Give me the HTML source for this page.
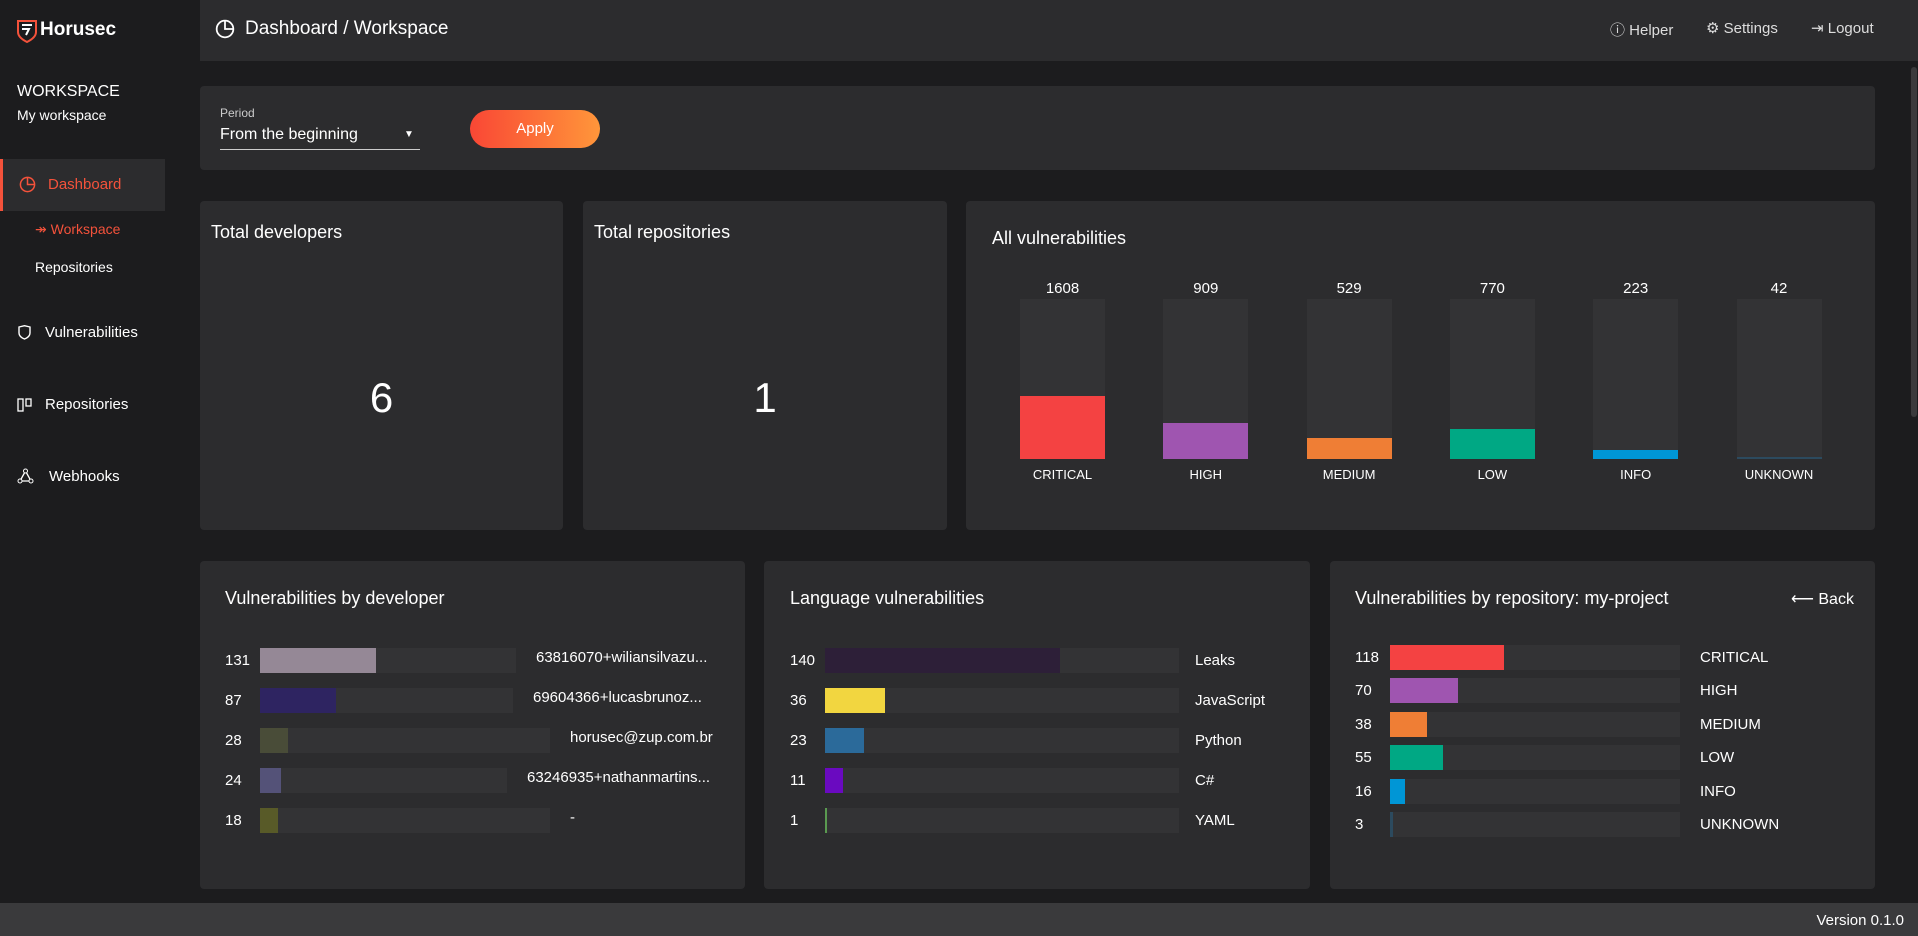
<!DOCTYPE html>
<html><head><meta charset="utf-8"><style>
*{box-sizing:border-box;margin:0;padding:0}
body{width:1918px;height:936px;background:#1c1c1e;font-family:"Liberation Sans",sans-serif;color:#fff;position:relative;overflow:hidden}
.abs{position:absolute}
.card{position:absolute;background:#2c2c2e;border-radius:4px}
.t{position:absolute;white-space:nowrap}
.track{position:absolute;background:#333335}
.fill{position:absolute;left:0;top:0;height:100%}
</style></head><body>
<div class="abs" style="left:0;top:0;width:200px;height:904px;background:#1c1c1e">
  <svg class="abs" style="left:16px;top:19px" width="22" height="24" viewBox="0 0 22 24"><path d="M2 2h18v11c0 5-5 8-9 10C7 21 2 18 2 13z" fill="none" stroke="#f4523b" stroke-width="2"/><path d="M6 6h10M6 10h7l-3 6" stroke="#fff" stroke-width="2" fill="none"/></svg>
  <div class="t" style="left:40px;top:19px;font-size:19px;font-weight:bold">Horusec</div>
  <div class="t" style="left:17px;top:83px;font-size:16px">WORKSPACE</div>
  <div class="t" style="left:17px;top:107px;font-size:14px">My workspace</div>
  <div class="abs" style="left:0;top:159px;width:165px;height:52px;background:#2c2c2e;border-left:3px solid #f4523b">
    <svg class="abs" style="left:16px;top:17px" width="17" height="17" viewBox="0 0 18 18"><circle cx="9" cy="9" r="7.5" fill="none" stroke="#f4523b" stroke-width="1.6"/><path d="M9 1.5V9h7.5" fill="none" stroke="#f4523b" stroke-width="1.6"/></svg>
    <div class="t" style="left:45px;top:17px;font-size:15px;color:#f4523b">Dashboard</div>
  </div>
  <div class="t" style="left:35px;top:221px;font-size:14px;color:#f4523b">↠ Workspace</div>
  <div class="t" style="left:35px;top:259px;font-size:14px">Repositories</div>
  <div class="abs" style="left:0;top:320px;width:165px;height:26px">
    <svg class="abs" style="left:18px;top:5px" width="13" height="15" viewBox="0 0 13 15"><path d="M1 2l5.5-1.3L12 2v6c0 3-3 5-5.5 6C4 13 1 11 1 8z" fill="none" stroke="#fff" stroke-width="1.4"/></svg>
    <div class="t" style="left:45px;top:4px;font-size:15px">Vulnerabilities</div></div>
  <div class="abs" style="left:0;top:392px;width:165px;height:26px">
    <svg class="abs" style="left:17px;top:6px" width="15" height="14" viewBox="0 0 15 14"><rect x="1" y="1" width="5" height="12" fill="none" stroke="#fff" stroke-width="1.3"/><rect x="9" y="1" width="5" height="7" fill="none" stroke="#fff" stroke-width="1.3"/></svg>
    <div class="t" style="left:45px;top:4px;font-size:15px">Repositories</div></div>
  <div class="abs" style="left:0;top:464px;width:165px;height:26px">
    <svg class="abs" style="left:17px;top:4px" width="17" height="16" viewBox="0 0 17 16"><path d="M8.5 3L3 13h11z" fill="none" stroke="#fff" stroke-width="1.3"/><circle cx="8.5" cy="3" r="2" fill="#1c1c1e" stroke="#fff"/><circle cx="3" cy="13" r="2" fill="#1c1c1e" stroke="#fff"/><circle cx="14" cy="13" r="2" fill="#1c1c1e" stroke="#fff"/></svg>
    <div class="t" style="left:49px;top:4px;font-size:15px">Webhooks</div></div>
</div>
<div class="abs" style="left:200px;top:0;width:1718px;height:61px;background:#2c2c2e">
  <svg class="abs" style="left:15px;top:19px" width="20" height="20" viewBox="0 0 18 18"><circle cx="9" cy="9" r="7.5" fill="none" stroke="#fff" stroke-width="1.6"/><path d="M9 1.5V9h7.5" fill="none" stroke="#fff" stroke-width="1.6"/></svg>
  <div class="t" style="left:45px;top:18px;font-size:19px">Dashboard / Workspace</div>
  <div class="t" style="left:1410px;top:19px;font-size:15px;color:#ddd">ⓘ&nbsp;Helper</div>
  <div class="t" style="left:1506px;top:19px;font-size:15px;color:#ddd">⚙&nbsp;Settings</div>
  <div class="t" style="left:1611px;top:19px;font-size:15px;color:#ddd">⇥&nbsp;Logout</div>
</div>
<div class="abs" style="left:1911px;top:67px;width:6px;height:350px;background:#3a3a3c;border-radius:3px"></div>
<div class="card" style="left:200px;top:86px;width:1675px;height:84px">
  <div class="t" style="left:20px;top:20px;font-size:12px;color:#ccc">Period</div>
  <div class="abs" style="left:20px;top:37px;width:200px;height:27px;border-bottom:1px solid #ccc">
    <div class="t" style="left:0;top:3px;font-size:16px">From the beginning</div>
    <div class="t" style="left:184px;top:6px;font-size:10px">▼</div></div>
  <div class="abs" style="left:270px;top:24px;width:130px;height:38px;border-radius:19px;background:linear-gradient(90deg,#f94735,#ff963a);text-align:center;line-height:38px;font-size:15px">Apply</div>
</div>
<div class="card" style="left:200px;top:201px;width:363px;height:329px">
  <div class="t" style="left:11px;top:21px;font-size:18px">Total developers</div>
  <div class="t" style="left:0;width:363px;text-align:center;top:173px;font-size:42px">6</div></div>
<div class="card" style="left:583px;top:201px;width:364px;height:329px">
  <div class="t" style="left:11px;top:21px;font-size:18px">Total repositories</div>
  <div class="t" style="left:0;width:364px;text-align:center;top:173px;font-size:42px">1</div></div>
<div class="card" id="allv" style="left:966px;top:201px;width:909px;height:329px">
  <div class="t" style="left:26px;top:27px;font-size:18px">All vulnerabilities</div></div>
<div class="card" id="devc" style="left:200px;top:561px;width:545px;height:328px">
  <div class="t" style="left:25px;top:27px;font-size:18px">Vulnerabilities by developer</div></div>
<div class="card" id="langc" style="left:764px;top:561px;width:546px;height:328px">
  <div class="t" style="left:26px;top:27px;font-size:18px">Language vulnerabilities</div></div>
<div class="card" id="repoc" style="left:1330px;top:561px;width:545px;height:328px">
  <div class="t" style="left:25px;top:27px;font-size:18px">Vulnerabilities by repository: my-project</div>
  <div class="t" style="left:461px;top:28px;font-size:16px">⟵ Back</div></div>
<div class="abs" style="left:0;top:903px;width:1918px;height:33px;background:#3a3a3c">
  <div class="t" style="right:14px;top:9px;font-size:15px">Version 0.1.0</div></div>
<script>
const sevCategories=["CRITICAL","HIGH","MEDIUM","LOW","INFO","UNKNOWN"];
const sevColors=["#f44242","#9f55b0","#ef7e35","#00a884","#0096d6","#2c4a5e"];
const allValues=[1608,909,529,770,223,42];
const devNames=["63816070+wiliansilvazu...","69604366+lucasbrunoz...","horusec@zup.com.br","63246935+nathanmartins...","-"];
const devValues=[131,87,28,24,18];
const devColors=["#958896","#2e2461","#494c38","#545278","#585a28"];
const devTrackEnds=[516,513,550,507,550];
const langNames=["Leaks","JavaScript","Python","C#","YAML"];
const langValues=[140,36,23,11,1];
const langColors=["#2d1f38","#f2d640","#2b6a9a","#6a0ac0","#5a9a50"];
const repoValues=[118,70,38,55,16,3];
const sum=a=>a.reduce((s,v)=>s+v,0);
const allc=document.getElementById('allv');
const tot=sum(allValues), trackH=160, trackTop=98;
allValues.forEach((v,i)=>{
  const x=54+i*143.3;
  const tr=document.createElement('div');tr.className='track';
  
  
  tr.style.cssText=`left:${x}px;top:${trackTop}px;width:85px;height:${trackH}px`;
  const f=document.createElement('div');f.className='fill';
  
  
  const h=Math.max(2,v/tot*trackH);
  f.style.cssText=`top:auto;bottom:0;width:100%;height:${h}px;background:${sevColors[i]}`;
  tr.appendChild(f);allc.appendChild(tr);
  const vl=document.createElement('div');vl.className='t';
  
  
  vl.style.cssText=`left:${x}px;width:85px;text-align:center;top:79px;font-size:15px`;vl.textContent=v;allc.appendChild(vl);
  const cl=document.createElement('div');cl.className='t';
  
  
  cl.style.cssText=`left:${x-20}px;width:125px;text-align:center;top:266px;font-size:13px`;cl.textContent=sevCategories[i];allc.appendChild(cl);
});
function hbars(card,vals,names,colors,opt){
  const t=sum(vals);
  vals.forEach((v,i)=>{
    const y=opt.top+i*opt.pitch;
    const n=document.createElement('div');n.className='t';
    
    
    n.style.cssText=`left:${opt.numX}px;top:${y+4}px;font-size:15px`;n.textContent=v;card.appendChild(n);
    const w=(opt.ends?opt.ends[i]:opt.end)-opt.barX;
    const tr=document.createElement('div');tr.className='track';
    
    
    tr.style.cssText=`left:${opt.barX}px;top:${y}px;width:${w}px;height:25px`;
    const f=document.createElement('div');f.className='fill';
    
    
    f.style.cssText=`width:${Math.max(2,v/t*w)}px;background:${colors[i]}`;
    tr.appendChild(f);card.appendChild(tr);
    const l=document.createElement('div');l.className='t';
    
    
    const lx=opt.ends?opt.ends[i]+20:opt.labelX;
    l.style.cssText=`left:${lx}px;top:${y+(opt.ends?1:4)}px;font-size:15px`;l.textContent=names[i];card.appendChild(l);
  });
}
hbars(document.getElementById('devc'),devValues,devNames,devColors,{top:87,pitch:40,numX:25,barX:60,ends:devTrackEnds.map(e=>e-200)});
hbars(document.getElementById('langc'),langValues,langNames,langColors,{top:87,pitch:40,numX:26,barX:61,end:415,labelX:431});
hbars(document.getElementById('repoc'),repoValues,sevCategories,sevColors,{top:84,pitch:33.4,numX:25,barX:60,end:350,labelX:370});
</script>
</body></html>
